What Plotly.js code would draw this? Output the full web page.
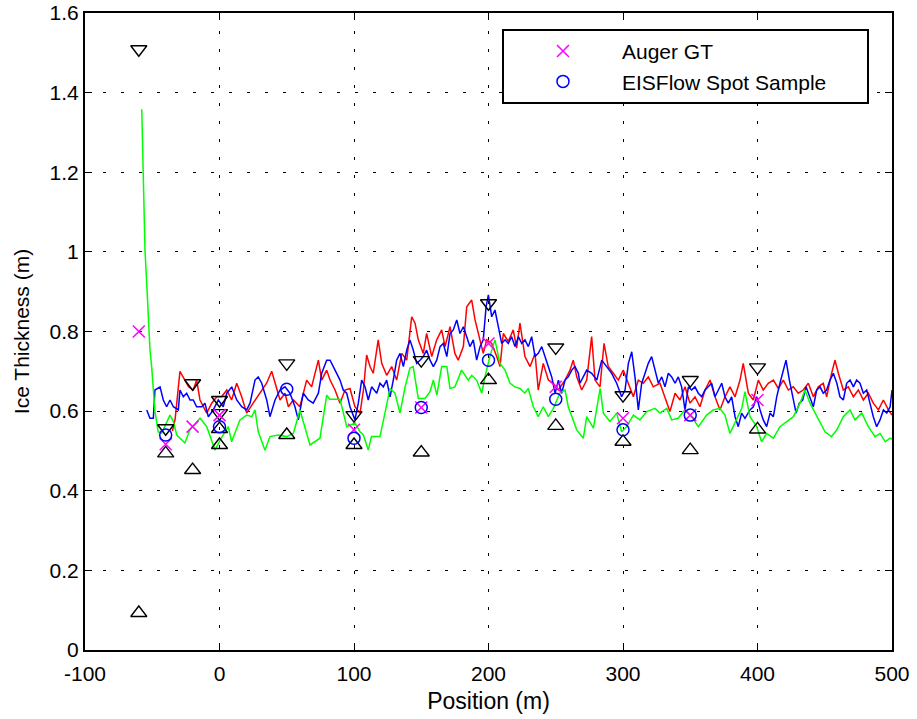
<!DOCTYPE html>
<html>
<head>
<meta charset="utf-8">
<script src="https://cdn.plot.ly/plotly-3.0.1.min.js"></script>
<style>html,body{margin:0;padding:0;background:#fff;}#chart{width:917px;height:719px;}</style>
</head>
<body>
<div id="chart"></div>
<script>
// Red profile
const redX = [-35,-33,-29.4,-25.7,-23,-19.5,-17,-14.5,-9.5,-5.8,-2,1.6,5.4,9,12.8,16.5,20.2,25,30,35,38.8,41.3,45,48.7,51.2,54.9,59.8,64.8,68.5,73.5,76,79.7,
  82.2,85.9,89.6,93.3,97,100.7,104.5,107,109.4,111.9,114.3,118,120.6,124.3,128,131.7,135.5,139.2,142.9,145.4,147.8,151.5,154,157.8,161.5,165.2,167.7,171.4,175,177.5,181.3,183.8,187.5,190,192.4,196.1,198.7,202.4,206.1,208.6,211,214.7,218.4,220.9,223.4,227.1,230.9,234.6,237,240.7,244.5,248.2,251.9,
  256.9,260.6,263,265.6,269.3,273,276.7,279.2,282.9,285.9,289,292.8,296.5,300.2,304,307.7,311.4,315.1,318.8,322.5,327.5,331.2,334.9,338.7,342.4,346.1,349.8,353.5,357.2,361,364.7,368.4,372.1,375.8,379.5,383.3,387,389.4,393.2,396.9,400.6,404.3,408,411.8,415.5,419.2,422.9,426.6,430.3,434,437.8,441.5,445.2,448.9,451.4,455.1,457.6,460.1,463.8,467.5,471.3,475,478.7,482.4,486.1,489.9,493.6,497.3,500];
const redY = [0.55,0.58,0.70,0.678,0.661,0.653,0.678,0.628,0.595,0.62,0.636,0.636,0.653,0.628,0.67,0.636,0.595,0.62,0.645,0.67,0.70,0.67,0.628,0.645,0.611,0.628,0.611,0.678,0.661,0.728,0.678,0.703,
  0.678,0.653,0.62,0.653,0.657,0.611,0.595,0.653,0.741,0.712,0.695,0.779,0.72,0.69,0.712,0.678,0.745,0.728,0.837,0.821,0.779,0.745,0.795,0.737,0.779,0.804,0.762,0.812,0.745,0.728,0.762,0.862,0.879,0.829,0.795,0.745,0.779,0.77,0.737,0.712,0.795,0.775,0.804,0.758,0.821,0.737,0.712,0.745,0.653,0.72,0.678,0.67,0.653,
  0.678,0.703,0.728,0.686,0.653,0.678,0.787,0.678,0.661,0.77,0.712,0.695,0.678,0.703,0.67,0.636,0.678,0.67,0.686,0.661,0.67,0.636,0.599,0.645,0.628,0.661,0.62,0.636,0.611,0.653,0.678,0.636,0.603,0.636,0.661,0.636,0.678,0.72,0.645,0.628,0.678,0.653,0.67,0.678,0.657,0.678,0.653,0.661,0.645,0.653,0.67,0.636,0.661,0.67,0.636,0.695,0.728,0.695,0.653,0.661,0.636,0.653,0.628,0.645,0.62,0.603,0.628,0.603,0.59];

// Blue profile
const blueX = [-54.1,-51.7,-49.2,-48,-44.2,-41.8,-39.3,-36.8,-34.3,-30.6,-29.4,-26.9,-24.4,-21.9,-19.5,-17,-13.2,-10.8,-8.3,-4.6,-0.9,2.8,5.4,9.1,12.8,16.5,20.2,22.7,26.4,28.8,31.4,35.1,37.5,41.3,45,48.7,52.4,56.1,58.6,62.3,66,69.7,73.5,76,79.7,
  82.2,85.9,89.6,92,94.6,97,100.7,103.2,105.7,108.2,110.6,113.1,116.9,119.3,121.8,124.3,126.8,129.2,131.7,134.2,136.7,139.2,141.6,144.1,146.6,149.1,151.5,154,156.5,159,161.5,164,166.4,169,171.4,173.8,176.4,178.8,181.3,183.8,186.2,188.7,191.2,193.7,196.1,198.2,199.9,202.4,204.8,207.3,209.8,212.3,214.7,217.2,219.7,222.2,224.7,227.1,229.6,232.1,234.6,237,239.6,242,244.5,247,249.5,252,254.4,256.9,259.3,261.9,264.3,266.8,
  268,273,276.7,280.5,284.2,287.9,291.6,295.3,299,301.5,304,306.5,308.9,311.4,313.9,316.4,318.8,321.3,323.8,326.3,328.8,331.2,333.7,336.2,338.7,341.1,343.6,346.1,348.6,351,353.5,356,358.5,361,363.4,365.9,368.4,370.9,373.4,375.8,378.3,380.8,383.3,385.7,388.2,390.7,394.4,396.9,399.4,401.9,404.3,406.8,409.3,411.8,414.3,416.7,419.2,421.2,423.7,426.2,428.7,431.1,433.6,436.1,438.6,441.5,444,446.5,448.9,451.4,453.9,456.4,459,461.3,463.8,466.3,468.8,471.3,473.7,476.2,478.7,481.2,483.6,486.1,488.6,491.1,493.6,496.1,498.6,500];
const blueY = [0.603,0.582,0.582,0.653,0.661,0.628,0.611,0.628,0.611,0.603,0.653,0.636,0.645,0.628,0.628,0.611,0.611,0.62,0.586,0.603,0.628,0.611,0.645,0.661,0.628,0.611,0.603,0.62,0.678,0.686,0.67,0.628,0.586,0.628,0.653,0.661,0.645,0.611,0.578,0.645,0.628,0.62,0.645,0.695,0.728,
  0.728,0.703,0.678,0.653,0.645,0.611,0.578,0.62,0.678,0.661,0.628,0.661,0.645,0.67,0.661,0.678,0.636,0.678,0.728,0.745,0.712,0.753,0.779,0.753,0.72,0.728,0.737,0.753,0.728,0.712,0.728,0.762,0.77,0.737,0.795,0.804,0.829,0.795,0.812,0.787,0.762,0.779,0.728,0.762,0.779,0.862,0.892,0.837,0.854,0.812,0.77,0.779,0.77,0.787,0.762,0.787,0.77,0.779,0.762,0.787,0.737,0.745,0.762,0.737,0.712,0.686,0.645,0.678,0.645,0.678,0.686,0.703,0.712,0.695,
  0.67,0.703,0.695,0.678,0.728,0.712,0.695,0.67,0.636,0.653,0.72,0.749,0.686,0.603,0.67,0.695,0.72,0.737,0.703,0.67,0.686,0.661,0.695,0.686,0.67,0.686,0.661,0.603,0.661,0.653,0.661,0.645,0.636,0.653,0.661,0.67,0.636,0.653,0.67,0.636,0.62,0.636,0.586,0.561,0.595,0.582,0.603,0.611,0.636,0.603,0.578,0.561,0.595,0.586,0.636,0.67,0.703,0.728,0.678,0.636,0.595,0.62,0.628,0.661,0.636,0.611,0.653,0.661,0.645,0.653,0.678,0.695,0.67,0.636,0.628,0.67,0.678,0.661,0.678,0.67,0.645,0.653,0.62,0.586,0.561,0.578,0.603,0.595,0.611,0.653];

// Green profile
const greenX = [-57.8,-55.4,-53.5,-51.7,-50.4,-48,-45.6,-43,-36.8,-34.4,-31.8,-25.7,-22,-17,-14.5,-9.5,-3.3,0.4,6.5,9,15.2,20.2,24,26.4,28.8,33.8,37.5,43.7,50,54.9,59.8,67.3,74.7,79.7,
  82,89.6,93,94.6,100.7,104.5,107,110.6,113,119.3,123,126.8,130.5,134.2,138,141.6,144,146.6,147.8,152.8,156.5,159,161.6,165.2,169,171.4,175,180,182.5,185,187.5,191.2,195,197.4,201,204.8,208.5,212.3,216,219.7,223.4,227,229.6,233.3,237,240.7,244.5,248.2,253,256.9,259.3,264.3,
  265.6,270.5,273,278,283,285.4,290.3,295.3,299,302.7,307.7,312.6,317.6,323.8,327.5,332.5,336.2,341,346,351,356,362.2,367.1,372,375.8,379.5,384.5,388.3,390.7,394.4,399.4,403,406.8,411.8,416.7,421.7,426.7,431.6,435.3,439,444,450.2,455,459,463.8,468.8,472.5,477.5,482.4,487.4,491.1,495,498.6,500];
const greenY = [1.358,1.005,0.88,0.754,0.71,0.60,0.548,0.545,0.59,0.575,0.54,0.52,0.553,0.574,0.582,0.561,0.502,0.527,0.561,0.523,0.578,0.59,0.586,0.603,0.548,0.502,0.536,0.54,0.536,0.544,0.603,0.515,0.532,0.64,
  0.63,0.63,0.586,0.561,0.57,0.548,0.54,0.502,0.536,0.536,0.595,0.657,0.645,0.595,0.661,0.708,0.712,0.653,0.632,0.632,0.649,0.678,0.64,0.712,0.712,0.657,0.661,0.703,0.69,0.678,0.69,0.678,0.645,0.686,0.737,0.779,0.72,0.703,0.67,0.661,0.657,0.645,0.657,0.611,0.586,0.611,0.586,0.607,0.645,0.653,0.611,0.561,
  0.553,0.532,0.586,0.557,0.657,0.595,0.574,0.595,0.548,0.561,0.59,0.578,0.599,0.607,0.595,0.607,0.578,0.582,0.603,0.586,0.561,0.59,0.603,0.607,0.59,0.544,0.578,0.607,0.649,0.586,0.561,0.523,0.544,0.532,0.561,0.574,0.586,0.62,0.653,0.62,0.586,0.548,0.536,0.553,0.586,0.603,0.578,0.595,0.561,0.536,0.544,0.523,0.532,0.53];

// Auger GT
const augerX = [-60,-40,-20,0,100,150,200,250,300,350,400];
const augerY = [0.80,0.517,0.561,0.59,0.553,0.609,0.77,0.661,0.582,0.59,0.628];

// EISFlow spot samples
const spotX = [-40,0,50,100,150,200,250,300,350];
const spotY = [0.54,0.561,0.655,0.532,0.609,0.728,0.63,0.553,0.59];

// Upper bounds (down triangles)
const upperX = [-60,-40,-20,0,0,50,100,150,200,250,300,350,400];
const upperY = [1.509,0.557,0.67,0.628,0.595,0.72,0.59,0.728,0.871,0.76,0.64,0.678,0.71];

// Lower bounds (up triangles)
const lowerX = [-60,-40,-20,0,0,50,100,150,200,250,300,350,400];
const lowerY = [0.093,0.494,0.452,0.555,0.515,0.54,0.515,0.496,0.678,0.563,0.523,0.502,0.554];

const xTicks = [-100,0,100,200,300,400,500];
const yTicks = [0,0.2,0.4,0.6,0.8,1,1.2,1.4,1.6];

const FONT = 'Liberation Sans, Arial, Helvetica, sans-serif';
const PAD = '\u00a0\u00a0\u00a0\u00a0\u00a0\u00a0';

const traces = [
  {x: redX, y: redY, mode: 'lines', line: {color: '#ff0000', width: 1.5}, showlegend: false, hoverinfo: 'skip'},
  {x: blueX, y: blueY, mode: 'lines', line: {color: '#0000ff', width: 1.5}, showlegend: false, hoverinfo: 'skip'},
  {x: greenX, y: greenY, mode: 'lines', line: {color: '#00ff00', width: 1.5}, showlegend: false, hoverinfo: 'skip'},
  {x: upperX, y: upperY, mode: 'markers', marker: {symbol: 'triangle-down-open', size: 14, color: '#000', line: {width: 1.4, color: '#000'}}, showlegend: false},
  {x: lowerX, y: lowerY, mode: 'markers', marker: {symbol: 'triangle-up-open', size: 14, color: '#000', line: {width: 1.4, color: '#000'}}, showlegend: false},
  {x: augerX, y: augerY, name: 'Auger GT', mode: 'markers', marker: {symbol: 'x-thin-open', size: 12, color: '#ff00ff', line: {width: 1.5, color: '#ff00ff'}}},
  {x: spotX, y: spotY, name: 'EISFlow Spot Sample' + PAD, mode: 'markers', marker: {symbol: 'circle-open', size: 12, color: '#0000ff', line: {width: 1.5, color: '#0000ff'}}}
];

const axisCommon = {
  showline: true, linecolor: '#000', linewidth: 2, mirror: 'ticks',
  ticks: 'inside', ticklen: 7, tickwidth: 1, tickcolor: '#000',
  showgrid: true, gridcolor: '#000', gridwidth: 1, griddash: '3px,15px',
  zeroline: false, tickfont: {family: FONT, size: 21, color: '#000'}
};

const layout = {
  width: 917, height: 719,
  margin: {l: 85, r: 25, t: 13, b: 69},
  paper_bgcolor: '#fff', plot_bgcolor: '#fff',
  font: {family: FONT, size: 21, color: '#000'},
  xaxis: Object.assign({}, axisCommon, {
    range: [-100, 500], tickvals: xTicks, ticktext: xTicks.map(String),
    ticklabelstandoff: 4,
    title: {text: 'Position (m)', font: {family: FONT, size: 23, color: '#000'}, standoff: 9}
  }),
  yaxis: Object.assign({}, axisCommon, {
    range: [0, 1.6], tickvals: yTicks, ticktext: yTicks.map(String),
    title: {text: 'Ice Thickness (m)', font: {family: FONT, size: 21, color: '#000'}, standoff: 14}
  }),
  legend: {
    x: 0.5167, y: 0.975, xanchor: 'left', yanchor: 'top',
    bordercolor: '#000', borderwidth: 2, bgcolor: '#fff',
    font: {family: FONT, size: 21, color: '#000'},
    itemwidth: 108
  },
  showlegend: true
};

Plotly.newPlot('chart', traces, layout, {displayModeBar: false, staticPlot: true});
</script>
</body>
</html>
